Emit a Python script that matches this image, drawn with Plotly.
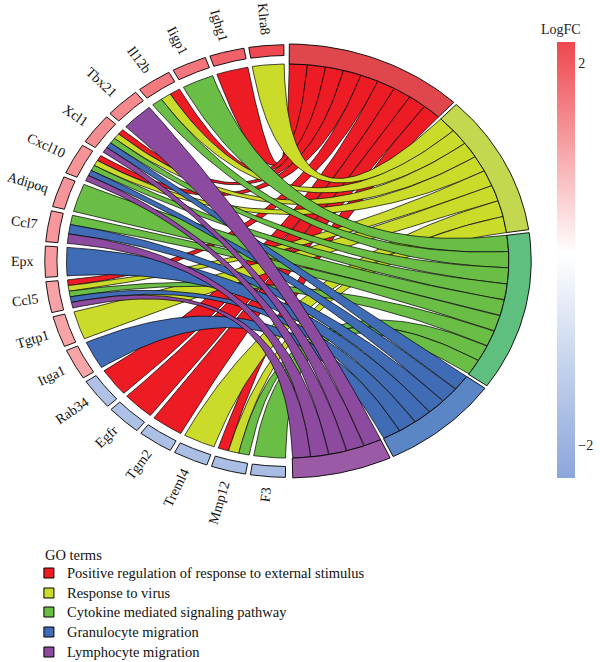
import numpy as np
import plotly.graph_objects as go

# ---------------- data ----------------
genes = ["F3", "Mmp12", "Treml4", "Tgm2", "Egfr", "Rab34", "Itga1", "Tgtp1", "Ccl5", "Epx",
         "Ccl7", "Adipoq", "Cxcl10", "Xcl1", "Tbx21", "Il12b", "Iigp1", "Ighg1", "Klra8"]
logfc = [-1.75, -1.72, -1.70, -1.68, -1.66, -1.62, 1.08, 1.10, 1.12, 1.20,
         1.25, 1.28, 1.30, 1.38, 1.42, 1.60, 1.65, 1.90, 2.20]
terms = ["Positive regulation of response to external stimulus", "Response to virus",
         "Cytokine mediated signaling pathway", "Granulocyte migration", "Lymphocyte migration"]
# membership of each gene (same order as genes) in each GO term
m_pos_reg = [0, 1, 0, 1, 1, 1, 0, 0, 1, 0, 0, 0, 1, 1, 0, 1, 0, 1, 0]
m_virus   = [0, 1, 1, 0, 0, 0, 0, 1, 1, 0, 0, 0, 1, 1, 0, 1, 0, 0, 1]
m_cytok   = [1, 1, 0, 0, 0, 0, 0, 0, 1, 0, 1, 1, 1, 1, 0, 1, 1, 0, 0]
m_granulo = [0, 0, 0, 0, 0, 0, 1, 0, 1, 1, 1, 0, 1, 1, 0, 0, 0, 0, 0]
m_lympho  = [0, 0, 0, 0, 0, 0, 0, 0, 1, 0, 1, 0, 1, 1, 1, 0, 0, 0, 0]
membership = [m_pos_reg, m_virus, m_cytok, m_granulo, m_lympho]
lfc_ticks = [-2, 2]
lfc_range = [-2.35, 2.22]

# ---------------- styles / geometry ----------------
ribbon_colors = ["#ED1C24", "#CADB2A", "#6ABD45", "#3F6CB5", "#8C4B9E"]
ring_colors = ["#E0474C", "#C3D74F", "#5FBF7E", "#5A86C6", "#9A5AA6"]
lfc_low, lfc_mid, lfc_high = "#8BA6DB", "#FFFFFF", "#EE474E"
SERIF = "Liberation Serif, Times New Roman, serif"

CX, CY, RX, RY = 294.0, 261.0, 249.0, 217.0
R_RIB = 0.908
R_GENE_IN, R_GENE_OUT = 0.947, 0.997
R_TERM_OUT = 1.0
GENE_TOP, GENE_W, GENE_STEP = 90.9, 8.3, 9.46
TERM_TOP, TERM_GAP = 89.6, 0.8
n_links = sum(sum(m) for m in membership)
TERM_U = (TERM_TOP + 88.8 - TERM_GAP * (len(terms) - 1)) / n_links


def to_screen(px, py):
    return CX + RX * np.asarray(px), CY - RY * np.asarray(py)


def arc_pts(r, a0, a1, n=30):
    a = np.radians(np.linspace(a0, a1, n))
    return r * np.cos(a), r * np.sin(a)


def bezier(r, a0, a1, n=60):
    p0 = np.array([r * np.cos(np.radians(a0)), r * np.sin(np.radians(a0))])
    p2 = np.array([r * np.cos(np.radians(a1)), r * np.sin(np.radians(a1))])
    t = np.linspace(0, 1, n)[:, None]
    b = (1 - t) ** 2 * p0 + t ** 2 * p2  # control point at the centre
    return b[:, 0], b[:, 1]


def sector(r0, r1, a0, a1):
    ox, oy = arc_pts(r1, a0, a1)
    ix, iy = arc_pts(r0, a1, a0)
    x = np.concatenate([ox, ix, ox[:1]])
    y = np.concatenate([oy, iy, oy[:1]])
    return to_screen(x, y)


def hex_to_rgb(h):
    h = h.lstrip("#")
    return np.array([int(h[i:i + 2], 16) for i in (0, 2, 4)], float)


def lfc_color(v):
    lo, hi = lfc_range
    if v <= 0:
        f = min(1.0, v / lo)
        c = hex_to_rgb(lfc_mid) + f * (hex_to_rgb(lfc_low) - hex_to_rgb(lfc_mid))
    else:
        f = min(1.0, v / hi)
        c = hex_to_rgb(lfc_mid) + f * (hex_to_rgb(lfc_high) - hex_to_rgb(lfc_mid))
    return "rgb(%d,%d,%d)" % tuple(np.round(c).astype(int))


n = len(genes)
gene_lo = [GENE_TOP + (n - 1 - k) * GENE_STEP for k in range(n)]
counts = [sum(m) for m in membership]
term_hi = []
acc = TERM_TOP
for t in range(len(terms)):
    term_hi.append(acc)
    acc -= counts[t] * TERM_U + TERM_GAP

fig = go.Figure()

# ribbons
for t in range(len(terms)):
    order = [k for k in range(n - 1, -1, -1) if membership[t][k]]
    for p, k in enumerate(order):
        tk = [tt for tt in range(len(terms)) if membership[tt][k]]
        sub = GENE_W / len(tk)
        a1 = gene_lo[k] + tk.index(t) * sub
        a2 = a1 + sub
        b2 = term_hi[t] - p * TERM_U
        b1 = b2 - TERM_U
        xs, ys = [], []
        for seg in (arc_pts(R_RIB, a1, a2), bezier(R_RIB, a2, b1 + 360),
                    arc_pts(R_RIB, b1, b2), bezier(R_RIB, b2, a1)):
            xs.append(seg[0]); ys.append(seg[1])
        x = np.concatenate(xs); y = np.concatenate(ys)
        x = np.append(x, x[0]); y = np.append(y, y[0])
        sx, sy = to_screen(x, y)
        fig.add_trace(go.Scatter(x=sx, y=sy, mode="lines", fill="toself",
                                 fillcolor=ribbon_colors[t],
                                 line=dict(color="black", width=0.7),
                                 hoverinfo="skip", showlegend=False))

# term rings
for t in range(len(terms)):
    hi = term_hi[t]
    lo = hi - counts[t] * TERM_U
    sx, sy = sector(R_RIB, R_TERM_OUT, lo, hi)
    fig.add_trace(go.Scatter(x=sx, y=sy, mode="lines", fill="toself",
                             fillcolor=ring_colors[t],
                             line=dict(color="black", width=0.9),
                             hoverinfo="skip", showlegend=False))

# gene rings and labels
char_w = {c: w for c, w in zip("abcdefghijklmnopqrstuvwxyz",
          [444, 500, 444, 500, 444, 333, 500, 500, 278, 278, 500, 278, 778, 500, 500,
           500, 500, 333, 389, 278, 500, 500, 722, 500, 500, 444])}
char_w.update({c: w for c, w in zip("ABCDEFGHIJKLMNOPQRSTUVWXYZ",
               [722, 667, 667, 722, 611, 556, 722, 722, 333, 389, 722, 611, 889, 722, 722,
                556, 722, 667, 556, 611, 722, 722, 944, 722, 722, 611])})
LABEL_FS = 14
annotations = []
for k, g in enumerate(genes):
    lo = gene_lo[k]
    hi = lo + GENE_W
    sx, sy = sector(R_GENE_IN, R_GENE_OUT, lo, hi)
    fig.add_trace(go.Scatter(x=sx, y=sy, mode="lines", fill="toself",
                             fillcolor=lfc_color(logfc[k]),
                             line=dict(color="black", width=0.9),
                             hoverinfo="skip", showlegend=False))
    mid = np.radians((lo + hi) / 2)
    ex, ey = to_screen(R_GENE_OUT * np.cos(mid), R_GENE_OUT * np.sin(mid))
    dx, dy = RX * np.cos(mid), -RY * np.sin(mid)
    nrm = np.hypot(dx, dy); dx /= nrm; dy /= nrm
    tw = sum(char_w.get(c, 500) for c in g) / 1000 * LABEL_FS
    dist = 11 + tw / 2
    lx, ly = float(ex + dx * dist), float(ey + dy * dist)
    ang = np.degrees(np.arctan2(-dy, -dx))
    annotations.append(dict(x=lx, y=ly, xref="x", yref="y", text=g, showarrow=False,
                            textangle=float(ang), xanchor="center", yanchor="middle",
                            font=dict(family=SERIF, size=LABEL_FS, color="#111")))

# colour bar for logFC
lo_v, hi_v = lfc_range
mid_pos = (0 - lo_v) / (hi_v - lo_v)
fig.add_trace(go.Scatter(
    x=[-100], y=[-100], mode="markers", hoverinfo="skip", showlegend=False,
    marker=dict(size=1, color=[0], cmin=lo_v, cmax=hi_v,
                colorscale=[[0, lfc_low], [mid_pos, lfc_mid], [1, lfc_high]],
                showscale=True,
                colorbar=dict(x=559 / 600, xanchor="left", xref="paper",
                              y=1 - 260 / 662, yanchor="middle", ypad=0,
                              len=436 / 662, lenmode="fraction", thickness=18,
                              outlinewidth=0, ticks="", tickvals=lfc_ticks,
                              ticktext=["\u22122", "2"],
                              tickfont=dict(family=SERIF, size=14, color="#222")))))
annotations.append(dict(x=573, y=29, xref="x", yref="y", text="LogFC", showarrow=False,
                        xanchor="center", yanchor="middle",
                        font=dict(family=SERIF, size=14, color="#222")))

# legend (GO terms)
leg_y = [573, 593, 612, 632, 652]
fig.add_trace(go.Scatter(x=[50] * len(terms), y=leg_y, mode="markers", hoverinfo="skip",
                         showlegend=False,
                         marker=dict(symbol="square", size=10, color=ribbon_colors,
                                     line=dict(color="black", width=1))))
annotations.append(dict(x=44, y=555, xref="x", yref="y", text="GO terms", showarrow=False,
                        xanchor="left", yanchor="middle",
                        font=dict(family=SERIF, size=14.5, color="#111")))
for t, name in enumerate(terms):
    annotations.append(dict(x=66, y=leg_y[t], xref="x", yref="y", text=name, showarrow=False,
                            xanchor="left", yanchor="middle",
                            font=dict(family=SERIF, size=14.5, color="#111")))

fig.update_layout(
    width=600, height=662, margin=dict(l=0, r=0, t=0, b=0),
    paper_bgcolor="white", plot_bgcolor="white", showlegend=False,
    xaxis=dict(range=[0, 600], visible=False, fixedrange=True),
    yaxis=dict(range=[662, 0], visible=False, fixedrange=True),
    annotations=annotations,
)
fig.write_html("out.html", config={"displayModeBar": False},
               post_script="document.body.style.margin='0';document.body.style.overflow='hidden';")
